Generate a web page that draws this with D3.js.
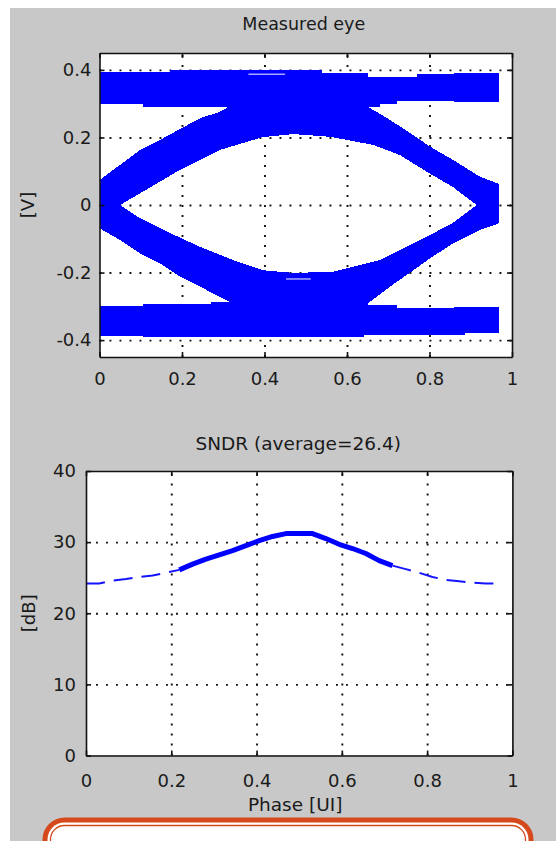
<!DOCTYPE html>
<html>
<head>
<meta charset="utf-8">
<script src="https://cdn.jsdelivr.net/npm/d3@7"></script>
<style>
body { margin: 0; background: #fff; }
svg text { font-family: "DejaVu Sans", sans-serif; fill: #1a1a1a; }
</style>
</head>
<body>
<div id="chart"></div>
<script>
"use strict";

// Page size
const w = 556;
const h = 841;

// Measured eye: outlines of the blue traces, [phase (UI), voltage (V)]
const topRail = [
	[0, 0.393], [0.17, 0.393], [0.17, 0.40], [0.54, 0.40], [0.54, 0.392], [0.65, 0.392],
	[0.65, 0.38], [0.77, 0.38], [0.77, 0.387], [0.86, 0.387], [0.86, 0.39], [0.969, 0.39],
	[0.969, 0.306], [0.86, 0.306], [0.86, 0.308], [0.72, 0.308], [0.72, 0.298], [0.68, 0.298],
	[0.68, 0.29], [0.5, 0.29], [0.105, 0.29], [0.105, 0.298], [0, 0.298]
];
const bottomRail = [
	[0, -0.299], [0.105, -0.299], [0.105, -0.293], [0.27, -0.293], [0.27, -0.288], [0.65, -0.288],
	[0.65, -0.296], [0.72, -0.296], [0.72, -0.306], [0.86, -0.306], [0.86, -0.303], [0.969, -0.303],
	[0.969, -0.38], [0.886, -0.38], [0.886, -0.385], [0.64, -0.385], [0.64, -0.39], [0.48, -0.39],
	[0.48, -0.392], [0.105, -0.392], [0.105, -0.388], [0, -0.388]
];
const upperBand = [
	[0, 0.074], [0.05, 0.119], [0.098, 0.163], [0.147, 0.193], [0.203, 0.23], [0.244, 0.257],
	[0.292, 0.276], [0.315, 0.292], [0.4, 0.32], [0.6, 0.32], [0.649, 0.292], [0.704, 0.252],
	[0.761, 0.207], [0.801, 0.173], [0.858, 0.133], [0.922, 0.084], [0.969, 0.062],
	[0.969, 0], [0.914, 0], [0.857, 0.053], [0.794, 0.098], [0.728, 0.148], [0.663, 0.178],
	[0.559, 0.202], [0.47, 0.21], [0.396, 0.201], [0.292, 0.163], [0.195, 0.104], [0.05, 0], [0, 0]
];
const lowerBand = [
	[0, -0.069], [0.05, -0.104], [0.098, -0.143], [0.147, -0.173], [0.195, -0.212], [0.244, -0.242],
	[0.292, -0.272], [0.32, -0.29], [0.4, -0.32], [0.6, -0.32], [0.652, -0.29], [0.704, -0.242],
	[0.761, -0.193], [0.801, -0.158], [0.858, -0.113], [0.922, -0.074], [0.969, -0.054],
	[0.969, 0], [0.914, 0], [0.857, -0.053], [0.777, -0.104], [0.68, -0.163], [0.566, -0.198],
	[0.469, -0.201], [0.396, -0.193], [0.324, -0.163], [0.244, -0.124], [0.171, -0.083], [0.098, -0.039], [0.05, 0], [0, 0]
];
// light marks inside the traces
const eyeMarks = [
	[[0.361, 0.387], [0.45, 0.387]],
	[[0.452, -0.219], [0.512, -0.219]]
];
const eyeXTicks = [0, 0.2, 0.4, 0.6, 0.8, 1];
const eyeYTicks = [-0.4, -0.2, 0, 0.2, 0.4];

// SNDR vs sampling phase
const sndrPhase = [0, 0.03125, 0.0625, 0.09375, 0.125, 0.15625, 0.1875, 0.21875,
	0.25, 0.28125, 0.3125, 0.34375, 0.375, 0.40625, 0.4375, 0.46875,
	0.5, 0.53125, 0.5625, 0.59375, 0.625, 0.65625, 0.6875, 0.71875,
	0.75, 0.78125, 0.8125, 0.84375, 0.875, 0.90625, 0.9375, 0.96875];
const sndrValue = [24.2, 24.2, 24.6, 24.8, 25.1, 25.3, 25.7, 26.1,
	26.9, 27.6, 28.2, 28.8, 29.5, 30.2, 30.8, 31.2,
	31.2, 31.2, 30.5, 29.7, 29.1, 28.4, 27.4, 26.7,
	26.2, 25.7, 25.1, 24.7, 24.5, 24.3, 24.2, 24.2];
const sndrBold = [0.21, 0.72];	// phases drawn with the heavy line
const sndrXTicks = [0, 0.2, 0.4, 0.6, 0.8, 1];
const sndrYTicks = [0, 10, 20, 30, 40];

const svg = d3.select("#chart")
	.append("svg")
	.attr("width", w)
	.attr("height", h);

// Figure background
svg.append("rect")
	.attr("x", 10)
	.attr("y", 8)
	.attr("width", w - 10)
	.attr("height", h - 8)
	.attr("fill", "#c8c8c8");

// Scales
const xEye = d3.scaleLinear().domain([0, 1]).range([99.5, 512]);
const yEye = d3.scaleLinear().domain([-0.45, 0.45]).range([357, 53]);
const xS = d3.scaleLinear().domain([0, 1]).range([86, 512.4]);
const yS = d3.scaleLinear().domain([0, 40]).range([755.5, 471]);

// White plot area and dotted grid
function background(x, y, xTicks, yTicks) {
	const [x0, x1] = x.range();
	const [y0, y1] = y.range();
	svg.append("rect")
		.attr("x", x0).attr("y", y1)
		.attr("width", x1 - x0).attr("height", y0 - y1)
		.attr("fill", "#fff");

	const gx = svg.append("g")
		.attr("transform", `translate(0,${y0})`)
		.call(d3.axisBottom(x)
			.tickValues(xTicks.filter(d => d > x.domain()[0] && d < x.domain()[1]))
			.tickSize(-(y0 - y1)).tickFormat(""));
	const gy = svg.append("g")
		.attr("transform", `translate(${x0},0)`)
		.call(d3.axisLeft(y)
			.tickValues(yTicks.filter(d => d > y.domain()[0] && d < y.domain()[1]))
			.tickSize(-(x1 - x0)).tickFormat(""));
	[gx, gy].forEach(g => {
		g.select(".domain").remove();
		g.selectAll("line")
			.attr("stroke", "#111")
			.attr("stroke-width", 1.9)
			.attr("stroke-dasharray", "1.9,8.1");
	});
}

// Box, inside ticks and tick labels
function frame(x, y, xTicks, yTicks, padX, padY) {
	const [x0, x1] = x.range();
	const [y0, y1] = y.range();
	const fmt = d => String(d);
	const axes = [
		[`translate(0,${y0})`, d3.axisBottom(x).tickValues(xTicks).tickFormat(fmt).tickPadding(padX)],
		[`translate(0,${y1})`, d3.axisTop(x).tickValues(xTicks).tickFormat("")],
		[`translate(${x0},0)`, d3.axisLeft(y).tickValues(yTicks).tickFormat(fmt).tickPadding(padY)],
		[`translate(${x1},0)`, d3.axisRight(y).tickValues(yTicks).tickFormat("")]
	];
	axes.forEach(([t, ax]) => {
		const g = svg.append("g")
			.attr("transform", t)
			.attr("color", "#111")
			.call(ax.tickSizeInner(-5).tickSizeOuter(0));
		g.attr("font-family", null).attr("font-size", 18);
		g.selectAll("path, line").attr("stroke-width", 1.6);
	});
}

// ---- Measured eye ----
background(xEye, yEye, eyeXTicks, eyeYTicks);

const eyeLine = d3.line()
	.x(d => xEye(d[0]))
	.y(d => yEye(d[1]));

svg.append("g")
	.selectAll("path")
	.data([topRail, bottomRail, upperBand, lowerBand])
	.enter()
	.append("path")
	.attr("d", d => eyeLine(d) + "Z")
	.attr("fill", "#0000ff")
	.attr("shape-rendering", "crispEdges");

svg.append("g")
	.selectAll("path")
	.data(eyeMarks)
	.enter()
	.append("path")
	.attr("d", eyeLine)
	.attr("stroke", "#a8a8ff")
	.attr("stroke-width", 1.5);

frame(xEye, yEye, eyeXTicks, eyeYTicks, 15, 8);

svg.append("text")
	.attr("x", (xEye.range()[0] + xEye.range()[1]) / 2 - 2)
	.attr("y", 24)
	.attr("dy", "0.35em")
	.attr("text-anchor", "middle")
	.style("font-size", "17.5px")
	.text("Measured eye");

svg.append("text")
	.attr("transform", `translate(28,${yEye(0)}) rotate(-90)`)
	.attr("dy", "0.35em")
	.attr("text-anchor", "middle")
	.style("font-size", "18px")
	.text("[V]");

// ---- SNDR ----
background(xS, yS, sndrXTicks, sndrYTicks);

const sndr = sndrPhase.map((p, i) => [p, sndrValue[i]]);
const boldPts = sndr.filter(d => d[0] >= sndrBold[0] && d[0] <= sndrBold[1]);
const leftPts = sndr.filter(d => d[0] <= boldPts[0][0]);
const rightPts = sndr.filter(d => d[0] >= boldPts[boldPts.length - 1][0]);

const sndrLine = d3.line()
	.x(d => xS(d[0]))
	.y(d => yS(d[1]));

svg.append("g")
	.selectAll("path")
	.data([leftPts, rightPts])
	.enter()
	.append("path")
	.attr("d", sndrLine)
	.attr("fill", "none")
	.attr("stroke", "#1414ff")
	.attr("stroke-width", 2)
	.attr("stroke-dasharray", "19,9");

svg.append("path")
	.attr("d", sndrLine(boldPts))
	.attr("fill", "none")
	.attr("stroke", "#0000ff")
	.attr("stroke-width", 5)
	.attr("stroke-linejoin", "round");

frame(xS, yS, sndrXTicks, sndrYTicks, 19, 10);

svg.append("text")
	.attr("x", (xS.range()[0] + xS.range()[1]) / 2 - 1)
	.attr("y", 443.5)
	.attr("dy", "0.35em")
	.attr("text-anchor", "middle")
	.style("font-size", "18.5px")
	.text("SNDR (average=26.4)");

svg.append("text")
	.attr("transform", `translate(28.5,${(yS.range()[0] + yS.range()[1]) / 2}) rotate(-90)`)
	.attr("dy", "0.35em")
	.attr("text-anchor", "middle")
	.style("font-size", "18px")
	.text("[dB]");

svg.append("text")
	.attr("x", (xS.range()[0] + xS.range()[1]) / 2 - 4)
	.attr("y", 805)
	.attr("dy", "0.35em")
	.attr("text-anchor", "middle")
	.style("font-size", "18.5px")
	.text("Phase [UI]");

// Rounded frame at the bottom of the page
svg.append("rect")
	.attr("x", 42.5).attr("y", 817.5)
	.attr("width", 491).attr("height", 80)
	.attr("rx", 22)
	.attr("fill", "#d5491c");
svg.append("rect")
	.attr("x", 47.5).attr("y", 822.5)
	.attr("width", 481).attr("height", 70)
	.attr("rx", 17)
	.attr("fill", "#fff");
svg.append("rect")
	.attr("x", 50.5).attr("y", 825.5)
	.attr("width", 475).attr("height", 64)
	.attr("rx", 14)
	.attr("fill", "#fff")
	.attr("stroke", "#d5491c")
	.attr("stroke-width", 1.3);
</script>
</body>
</html>
